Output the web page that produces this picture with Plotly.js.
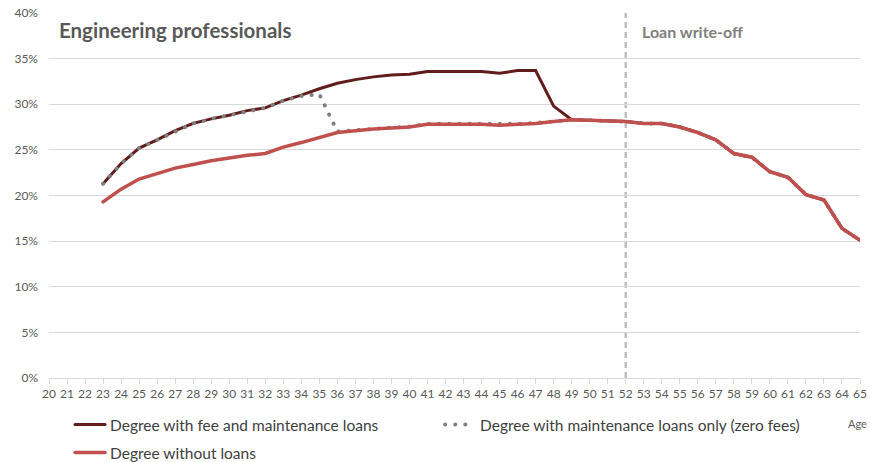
<!DOCTYPE html>
<html>
<head>
<meta charset="utf-8">
<script src="https://cdn.plot.ly/plotly-3.0.1.min.js"></script>
<style>html,body{margin:0;padding:0;background:#fff;}#chart{width:870px;height:462px;}</style>
</head>
<body>
<div id="chart"></div>
<script>
const ages = [23,24,25,26,27,28,29,30,31,32,33,34,35,36,37,38,39,40,41,42,43,44,45,46,47,48,49,50,51,52,53,54,55,56,57,58,59,60,61,62,63,64,65];
const feeAndMaintenance = [21.3,23.5,25.2,26.1,27.1,27.9,28.4,28.8,29.3,29.6,30.4,31.0,31.7,32.3,32.7,33.0,33.2,33.3,33.6,33.6,33.55,33.6,33.4,33.7,33.7,29.8,28.3,28.25,28.2,28.1,27.9,27.9,27.5,26.9,26.1,24.6,24.2,22.6,22.0,20.1,19.5,16.4,15.1];
const maintenanceOnly = [21.3,23.5,25.2,26.1,27.1,27.9,28.4,28.8,29.3,29.6,30.4,30.9,31.1,27.0,27.15,27.35,27.45,27.55,27.85,27.85,27.85,27.85,27.75,27.85,27.95,28.15,28.3,28.25,28.2,28.1,27.9,27.9,27.5,26.9,26.1,24.6,24.2,22.6,22.0,20.1,19.5,16.4,15.1];
const withoutLoans = [19.3,20.7,21.8,22.4,23.0,23.4,23.8,24.1,24.4,24.6,25.3,25.8,26.4,26.9,27.1,27.3,27.4,27.5,27.8,27.8,27.8,27.8,27.7,27.8,27.9,28.1,28.3,28.25,28.2,28.1,27.9,27.9,27.5,26.9,26.1,24.6,24.2,22.6,22.0,20.1,19.5,16.4,15.1];
const seriesNames = ["Degree with fee and maintenance loans","Degree with maintenance loans only (zero fees)","Degree without loans"];
const xTicks = [20,21,22,23,24,25,26,27,28,29,30,31,32,33,34,35,36,37,38,39,40,41,42,43,44,45,46,47,48,49,50,51,52,53,54,55,56,57,58,59,60,61,62,63,64,65];
const yTicks = [0,5,10,15,20,25,30,35,40];
const yTickLabels = ["0%","5%","10%","15%","20%","25%","30%","35%","40%"];
const writeOffAge = 52;

const FONT = "Lato, 'Open Sans', sans-serif";
const LEGEND_FONT = {family: FONT, size: 15.5, color: '#404040'};

const traces = [
  {x: ages, y: feeAndMaintenance, name: seriesNames[0], mode: 'lines', line: {color: '#631c1c', width: 3}, legend: 'legend'},
  {x: ages, y: maintenanceOnly, name: seriesNames[1], mode: 'lines', line: {color: '#7f7f7f', width: 4, dash: '0.1px,10px'}, legend: 'legend'},
  {x: ages, y: withoutLoans, name: seriesNames[2], mode: 'lines', line: {color: '#c0504d', width: 3.5}, legend: 'legend2'}
];

const layout = {
  width: 870, height: 462,
  margin: {l: 49, r: 10, t: 13, b: 84, autoexpand: false},
  paper_bgcolor: '#fff', plot_bgcolor: '#fff',
  font: {family: FONT, color: '#595959', size: 12},
  showlegend: true,
  legend: {orientation: 'h', x: 0.026, xanchor: 'left', y: (378-425)/365, yanchor: 'middle',
           entrywidth: 325, font: LEGEND_FONT, itemwidth: 30, traceorder: 'normal', bgcolor: 'rgba(0,0,0,0)'},
  legend2: {orientation: 'h', x: 0.026, xanchor: 'left', y: (378-453)/365, yanchor: 'middle',
           font: LEGEND_FONT, itemwidth: 30, bgcolor: 'rgba(0,0,0,0)'},
  xaxis: {range: [20, 65], tickvals: xTicks, ticktext: xTicks.map(String), showgrid: false, zeroline: false,
          showline: true, linecolor: '#d9d9d9', linewidth: 1, ticks: 'outside', ticklen: 5, tickcolor: '#d9d9d9',
          tickfont: {family: FONT, size: 12, color: '#595959'}, fixedrange: true},
  yaxis: {range: [0, 40], tickvals: yTicks, ticktext: yTickLabels, showgrid: true, gridcolor: '#d9d9d9', gridwidth: 1,
          zeroline: false, showline: false, ticks: '', ticklabelstandoff: 10, tickfont: {family: FONT, size: 12, color: '#595959'}, fixedrange: true},
  shapes: [
    {type: 'line', xref: 'x', yref: 'paper', x0: writeOffAge, x1: writeOffAge, y0: 0, y1: 1,
     line: {color: '#bfbfbf', width: 2.5, dash: '6px,4px'}, layer: 'below'}
  ],
  annotations: [
    {text: '<b>Engineering professionals</b>', xref: 'paper', yref: 'paper', x: (57-49)/811, y: (378-30)/365,
     xanchor: 'left', yanchor: 'middle', showarrow: false, font: {family: FONT, size: 20.5, color: '#595959'}},
    {text: '<b>Loan write-off</b>', xref: 'paper', yref: 'paper', x: (640-49)/811, y: (378-31)/365,
     xanchor: 'left', yanchor: 'middle', showarrow: false, font: {family: FONT, size: 16, color: '#808080'}},
    {text: 'Age', xref: 'paper', yref: 'paper', x: (869-49)/811, y: (378-423)/365,
     xanchor: 'right', yanchor: 'middle', showarrow: false, font: {family: FONT, size: 11, color: '#595959'}}
  ]
};

Plotly.newPlot('chart', traces, layout, {staticPlot: true}).then(function(gd){
  gd.querySelectorAll('path.js-line').forEach(p => { p.style.strokeLinecap = 'round'; });
});
</script>
</body>
</html>
